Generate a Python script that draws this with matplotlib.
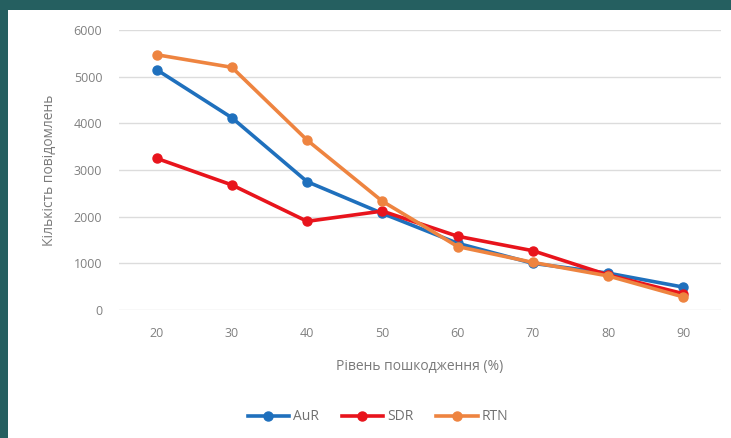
import matplotlib
matplotlib.use("Agg")
import matplotlib.pyplot as plt
from matplotlib.patches import Rectangle

categories = ["20", "30", "40", "50", "60", "70", "80", "90"]
aur = [5150, 4120, 2750, 2070, 1430, 1000, 790, 490]
sdr = [3250, 2680, 1900, 2120, 1580, 1270, 750, 350]
rtn = [5470, 5200, 3640, 2330, 1360, 1020, 730, 280]
yticks = [0, 1000, 2000, 3000, 4000, 5000, 6000]

plt.rcParams['font.family'] = ['Open Sans', 'DejaVu Sans']

fig = plt.figure(figsize=(7.31, 4.38), dpi=100)
fig.patch.set_facecolor('#255f60')
fig.patches.append(Rectangle((8/731, 0), 1 - 8/731, (438 - 10)/438,
                             transform=fig.transFigure, facecolor='white',
                             edgecolor='none', zorder=-10))

ax = fig.add_axes([119/731, 1 - 310/438, (721 - 119)/731, (310 - 30)/438])
ax.set_facecolor('none')
x = list(range(len(categories)))
ax.plot(x, aur, color='#1f70bd', lw=2.6, marker='o', ms=6.5, label='AuR', zorder=3)
ax.plot(x, sdr, color='#e8141c', lw=2.6, marker='o', ms=6.5, label='SDR', zorder=4)
ax.plot(x, rtn, color='#ee8440', lw=2.6, marker='o', ms=6.5, label='RTN', zorder=5)

ax.set_xlim(-0.5, len(categories) - 0.5)
ax.set_ylim(0, 6000)
ax.set_yticks(yticks)
ax.set_xticks(x)
ax.set_xticklabels(categories)
ax.grid(axis='y', color='#dcdcdc', lw=1)
ax.set_axisbelow(True)
for s in ax.spines.values():
    s.set_visible(False)
ax.tick_params(axis='both', length=0, colors='#808080', labelsize=9)
ax.tick_params(axis='y', pad=12)
ax.tick_params(axis='x', pad=12)
ax.set_xlabel('Рівень пошкодження (%)', color='#7a7a7a', fontsize=10, labelpad=14)
ax.set_ylabel('Кількість повідомлень', color='#7a7a7a', fontsize=10, labelpad=12)

fig.legend(loc='center', bbox_to_anchor=(378/731, 1 - 417/438), ncol=3,
           frameon=False, fontsize=10, labelcolor='#707070', handlelength=3.0,
           handletextpad=0.3, columnspacing=1.6)

fig.savefig('out.png', dpi=100, facecolor=fig.get_facecolor())
